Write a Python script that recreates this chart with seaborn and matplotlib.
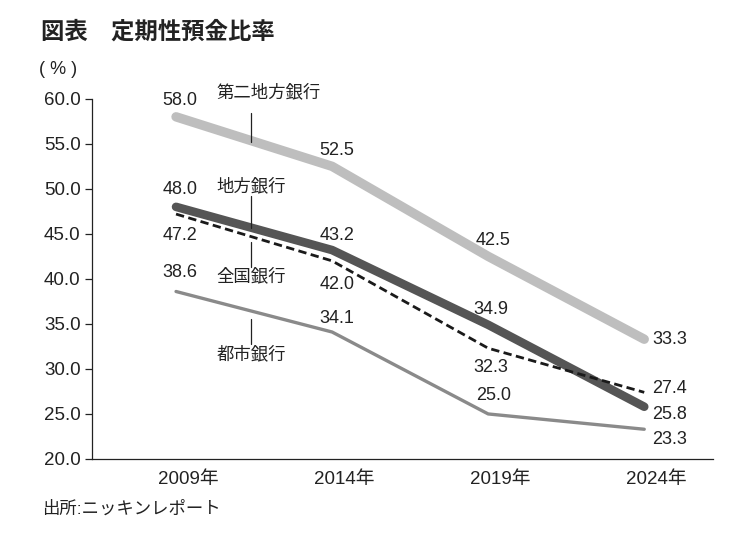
import pandas as pd
import matplotlib
matplotlib.use("Agg")
import matplotlib.pyplot as plt
import matplotlib.transforms as mtransforms
import seaborn as sns

# data
years = ["2009年", "2014年", "2019年", "2024年"]
second_regional = [58.0, 52.5, 42.5, 33.3]
regional = [48.0, 43.2, 34.9, 25.8]
all_banks = [47.2, 42.0, 32.3, 27.4]
city_banks = [38.6, 34.1, 25.0, 23.3]
series_names = ["第二地方銀行", "地方銀行", "全国銀行", "都市銀行"]

sns.set_style("ticks")
plt.rcParams['font.family'] = ['Liberation Sans', 'Noto Sans CJK JP', 'DejaVu Sans']

fig = plt.figure(figsize=(7.43, 5.49), dpi=100)
ax = fig.add_axes([0.1235, 0.164, 0.836, 0.656])

styles = {
    "第二地方銀行": dict(color="#bebebe", linewidth=6.8, linestyle="-"),
    "地方銀行": dict(color="#555555", linewidth=6.2, linestyle="-"),
    "全国銀行": dict(color="#1a1a1a", linewidth=2.0, linestyle=(0, (3.0, 1.6))),
    "都市銀行": dict(color="#8a8a8a", linewidth=2.4, linestyle="-"),
}
values = dict(zip(series_names, [second_regional, regional, all_banks, city_banks]))

for name in series_names:
    df = pd.DataFrame({"year": years, "value": values[name]})
    st = styles[name]
    sns.lineplot(data=df, x="year", y="value", ax=ax, color=st["color"],
                 linewidth=st["linewidth"], linestyle=st["linestyle"],
                 solid_capstyle="round", dash_capstyle="butt", sort=False)

# value labels: (dx, dy) pixel offsets per point, last point to the right
offsets = {
    "第二地方銀行": [(4, 16), (5, 16), (5, 16), (8, 0)],
    "地方銀行": [(4, 17), (5, 15), (3, 15), (8, -8)],
    "全国銀行": [(4, -21), (5, -24), (3, -19), (8, 4)],
    "都市銀行": [(4, 19), (5, 14), (5, 18), (8, -10)],
}
for name in series_names:
    for i, v in enumerate(values[name]):
        dx, dy = offsets[name][i]
        ha = "left" if i == 3 else "center"
        ax.annotate(f"{v:.1f}", xy=(i, v), xytext=(dx, dy), textcoords="offset pixels",
                    ha=ha, va="center", fontsize=13, color="#222222")

# series names with leader lines
lead_x = 0.48
name_spots = [
    ("第二地方銀行", 60.8, 58.4, 55.2),
    ("地方銀行", 50.3, 49.2, 45.7),
    ("全国銀行", 40.3, 41.3, 44.1),
    ("都市銀行", 31.7, 32.8, 35.5),
]
for name, ty, y0, y1 in name_spots:
    ax.text(lead_x - 0.22, ty, name, ha="left", va="center", fontsize=12.5, color="#222222")
    ax.plot([lead_x, lead_x], [y0, y1], color="#222222", linewidth=0.9)

ax.set_xlim(-0.54, 3.44)
ax.set_ylim(20, 60)
ax.set_yticks([20, 25, 30, 35, 40, 45, 50, 55, 60])
ax.set_yticklabels([f"{t:.1f}" for t in ax.get_yticks()])
ax.set_xlabel("")
ax.set_ylabel("")
ax.tick_params(axis="y", length=5, width=0.9, labelsize=13.5, colors="#222222", pad=3)
ax.tick_params(axis="x", length=0, labelsize=13.5, colors="#222222", pad=9)
shift = mtransforms.ScaledTranslation(12 / 100, 0, fig.dpi_scale_trans)
for lab in ax.get_xticklabels():
    lab.set_transform(lab.get_transform() + shift)

sns.despine(ax=ax)
for side in ["left", "bottom"]:
    ax.spines[side].set_color("#222222")
    ax.spines[side].set_linewidth(0.9)

fig.text(0.055, 0.941, "図表　定期性預金比率", fontsize=16.8, fontweight="bold",
         ha="left", va="center", color="#222222")
fig.text(0.053, 0.874, "( % )", fontsize=13, ha="left", va="center", color="#222222")
fig.text(0.056, 0.074, "出所:ニッキンレポート", fontsize=12.5, ha="left", va="center",
         color="#222222")

fig.savefig("out.png", dpi=100, facecolor="white")
